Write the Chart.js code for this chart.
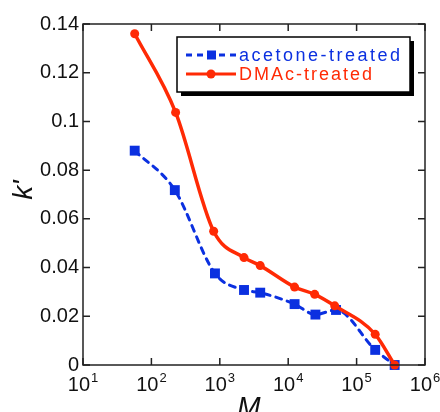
<!DOCTYPE html>
<html>
<head>
<meta charset="utf-8">
<script src="https://cdn.jsdelivr.net/npm/chart.js@4"></script>
<style>
  html, body { margin: 0; padding: 0; background: #fff; }
  #wrap { width: 440px; height: 412px; }
</style>
</head>
<body>
<div id="wrap"><canvas id="myChart" width="440" height="412"></canvas></div>
<script>
// molecular weight M and k' values
const massAcetone = [57, 220, 850, 2260, 3900, 12400, 25000, 50000, 187000, 360000];
const kAcetone = [0.088, 0.0718, 0.0376, 0.0308, 0.0297, 0.025, 0.0207, 0.0226, 0.0062, 0];
const massDMAc = [57, 226, 813, 2260, 3900, 12400, 24400, 47900, 187000, 360000];
const kDMAc = [0.136, 0.1037, 0.0549, 0.0441, 0.0408, 0.032, 0.029, 0.0243, 0.0126, 0];

const xTickExps = [1, 2, 3, 4, 5, 6];
const yTicks = [0, 0.02, 0.04, 0.06, 0.08, 0.1, 0.12, 0.14];
const yTickLabels = ['0', '0.02', '0.04', '0.06', '0.08', '0.1', '0.12', '0.14'];

const blue = '#0b30e0';
const red = '#ff2a05';

function toPoints(xs, ys) {
  let pts = [];
  for (let i = 0; i < xs.length; i++) pts.push({ x: xs[i], y: ys[i] });
  return pts;
}

// frame, inward ticks, tick labels, axis titles and legend
const framePlugin = {
  id: 'frame',
  afterDatasetsDraw(chart) {
    const ctx = chart.ctx;
    const a = chart.chartArea;
    const xs = chart.scales.x, ys = chart.scales.y;
    const tl = 7;
    ctx.save();
    ctx.strokeStyle = '#222';
    ctx.lineWidth = 1.5;
    ctx.strokeRect(a.left, a.top, a.right - a.left, a.bottom - a.top);
    ctx.beginPath();
    for (let e of xTickExps) {
      const px = xs.getPixelForValue(Math.pow(10, e));
      ctx.moveTo(px, a.bottom); ctx.lineTo(px, a.bottom - tl);
      ctx.moveTo(px, a.top); ctx.lineTo(px, a.top + tl);
    }
    for (let v of yTicks) {
      const py = ys.getPixelForValue(v);
      ctx.moveTo(a.left, py); ctx.lineTo(a.left + tl, py);
      ctx.moveTo(a.right, py); ctx.lineTo(a.right - tl, py);
    }
    ctx.stroke();

    // y tick labels
    ctx.fillStyle = '#111';
    ctx.font = '20px "Liberation Sans"';
    ctx.textAlign = 'right';
    ctx.textBaseline = 'middle';
    yTicks.forEach(function (v, i) {
      ctx.fillText(yTickLabels[i], a.left - 4, ys.getPixelForValue(v));
    });

    // x tick labels 10^n
    ctx.textBaseline = 'alphabetic';
    ctx.textAlign = 'left';
    for (let e of xTickExps) {
      const px = xs.getPixelForValue(Math.pow(10, e));
      ctx.font = '20px "Liberation Sans"';
      const wb = ctx.measureText('10').width;
      ctx.font = '13px "Liberation Sans"';
      const we = ctx.measureText(String(e)).width;
      const x0 = px - (wb + we + 1) / 2;
      ctx.font = '20px "Liberation Sans"';
      ctx.fillText('10', x0, 391);
      ctx.font = '13px "Liberation Sans"';
      ctx.fillText(String(e), x0 + wb + 1, 382);
    }

    // axis titles
    ctx.font = 'italic 28px "Liberation Sans"';
    ctx.textAlign = 'center';
    ctx.fillText('M', 249, 416);
    ctx.save();
    ctx.translate(32, 190);
    ctx.rotate(-Math.PI / 2);
    ctx.textBaseline = 'alphabetic';
    ctx.fillText("k'", 0, 0);
    ctx.restore();

    // legend box with shadow
    const bx = 177, by = 37, bw = 233, bh = 55;
    ctx.fillStyle = '#000';
    ctx.fillRect(bx + 4, by + 4, bw, bh);
    ctx.fillStyle = '#fff';
    ctx.fillRect(bx, by, bw, bh);
    ctx.strokeStyle = '#000';
    ctx.lineWidth = 1.5;
    ctx.strokeRect(bx, by, bw, bh);

    const rows = [
      { label: 'acetone-treated', color: blue, dash: [6, 5], style: 'rect', y: 55 },
      { label: 'DMAc-treated', color: red, dash: [], style: 'circle', y: 74 }
    ];
    for (let r of rows) {
      ctx.strokeStyle = r.color;
      ctx.lineWidth = 3;
      ctx.setLineDash(r.dash);
      ctx.beginPath();
      ctx.moveTo(186, r.y); ctx.lineTo(236, r.y);
      ctx.stroke();
      ctx.setLineDash([]);
      ctx.fillStyle = r.color;
      if (r.style === 'rect') {
        ctx.fillRect(207, r.y - 4.5, 9, 9);
      } else {
        ctx.beginPath(); ctx.arc(211, r.y, 4.5, 0, Math.PI * 2); ctx.fill();
      }
      ctx.font = '18px "Liberation Sans"';
      ctx.letterSpacing = r.style === 'rect' ? '2.5px' : '2px';
      ctx.textAlign = 'left';
      ctx.textBaseline = 'middle';
      ctx.fillText(r.label, 239, r.y + 1);
      ctx.letterSpacing = '0px';
    }
    ctx.restore();
  }
};

const data = {
  datasets: [{
    label: 'acetone-treated',
    data: toPoints(massAcetone, kAcetone),
    borderColor: blue,
    backgroundColor: blue,
    borderWidth: 3,
    borderDash: [6, 6],
    borderCapStyle: 'round',
    pointStyle: 'rect',
    pointRadius: 7,
    pointBorderWidth: 0,
    cubicInterpolationMode: 'monotone',
    order: 1,
    clip: false
  }, {
    label: 'DMAc-treated',
    data: toPoints(massDMAc, kDMAc),
    borderColor: red,
    backgroundColor: red,
    borderWidth: 3.5,
    pointStyle: 'circle',
    pointRadius: 4.5,
    pointBorderWidth: 0,
    cubicInterpolationMode: 'monotone',
    order: 0,
    clip: false
  }]
};

const config = {
  type: 'line',
  data: data,
  options: {
    responsive: false,
    animation: false,
    layout: { padding: { left: 83, right: 15, top: 24, bottom: 47 } },
    plugins: { legend: { display: false }, tooltip: { enabled: false } },
    scales: {
      x: { type: 'logarithmic', min: 10, max: 1000000, display: false },
      y: { type: 'linear', min: 0, max: 0.14, display: false }
    }
  },
  plugins: [framePlugin]
};

const myChart = new Chart(document.getElementById('myChart'), config);
</script>
</body>
</html>
